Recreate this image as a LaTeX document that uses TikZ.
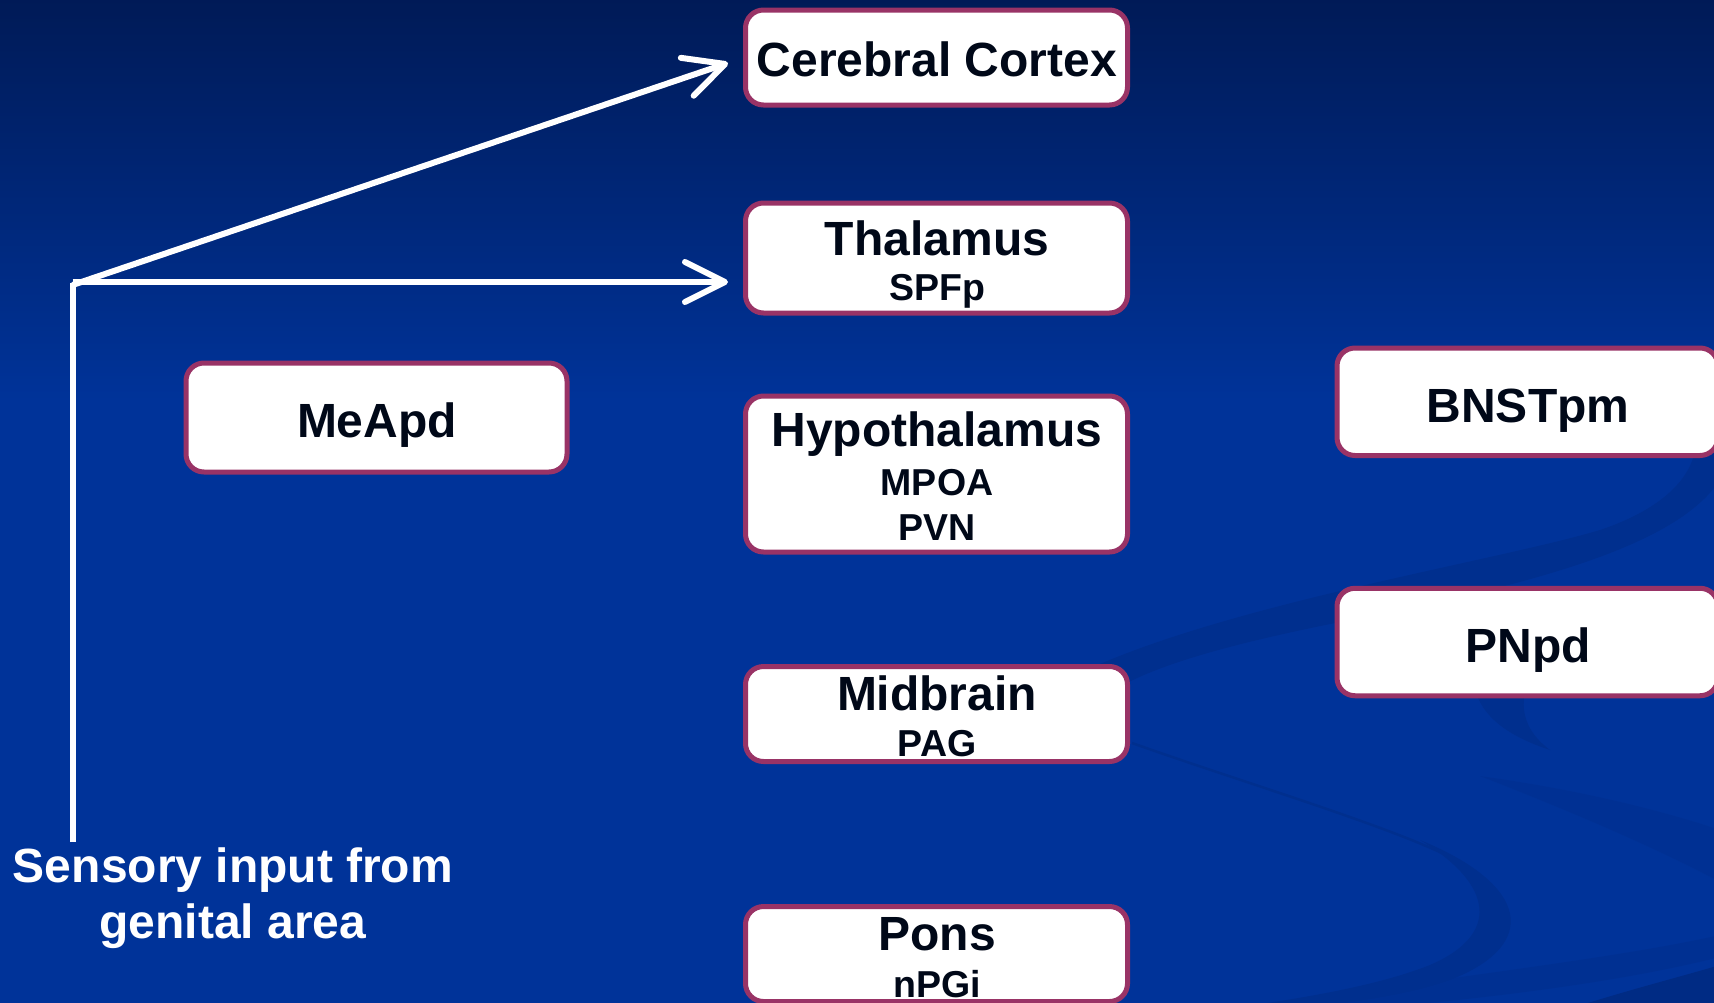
\documentclass[tikz,border=0pt]{standalone}
\usepackage{fontspec}
\setmainfont{Liberation Sans}
\usetikzlibrary{arrows.meta}
\definecolor{bgmain}{HTML}{003399}
\definecolor{bgtop}{HTML}{001A56}
\definecolor{swirl}{HTML}{002F8E}
\definecolor{swirldark}{HTML}{002B84}
\definecolor{boxborder}{HTML}{993366}
\definecolor{txt}{HTML}{000818}
\begin{document}
\begin{tikzpicture}[x=1pt,y=-1pt,
  region/.style={draw=boxborder, line width=5pt, fill=white, rounded corners=18pt, inner sep=0pt},
  bigtext/.style={text=txt, font=\fontsize{48}{56}\selectfont\bfseries, anchor=base, inner sep=0pt},
  smalltext/.style={text=txt, font=\fontsize{37.5}{44}\selectfont\bfseries, anchor=base, inner sep=0pt},
  whitetext/.style={text=white, font=\fontsize{48}{56}\selectfont\bfseries, anchor=base, inner sep=0pt},
  wline/.style={draw=white, line width=6pt},
  openarrow/.style={-{Straight Barb[length=40pt,width=40pt,line cap=round,line join=round]}}]
\useasboundingbox (0,0) rectangle (1714,1002);
% background
\fill[bgmain] (-6,-6) rectangle (1720,1008);
\shade[top color=bgtop, bottom color=bgmain] (-6,-6) rectangle (1720,400);
% faint swirl
\fill[swirl] (1100,664) .. controls (1250,600) and (1500,560) .. (1600,530) .. controls (1660,510) and (1690,480) .. (1695,450) -- (1720,450) -- (1720,480) .. controls (1680,540) and (1560,580) .. (1340,622) .. controls (1250,640) and (1170,660) .. (1125,684) -- cycle;
\draw[swirl, line width=2.5pt] (1132,743) .. controls (1250,785) and (1420,835) .. (1470,868);
\fill[swirl] (1420,840) .. controls (1530,885) and (1540,945) .. (1450,980) .. controls (1400,998) and (1330,1005) .. (1260,1012) -- (1200,1012) .. controls (1300,1000) and (1380,985) .. (1430,965) .. controls (1500,935) and (1495,885) .. (1420,840) -- cycle;
\fill[swirl] (1478,698) .. controls (1490,725) and (1520,740) .. (1550,750) .. controls (1530,735) and (1522,718) .. (1524,698) -- cycle;
\fill[swirl, opacity=.5] (1480,776) .. controls (1580,790) and (1660,810) .. (1720,830) -- (1720,882) .. controls (1660,850) and (1580,815) .. (1480,776) -- cycle;
\fill[swirl, opacity=.6] (1230,1012) .. controls (1400,982) and (1600,962) .. (1720,935) -- (1720,957) .. controls (1600,987) and (1450,1002) .. (1330,1012) -- cycle;
\fill[swirldark] (1560,1012) .. controls (1620,992) and (1680,977) .. (1720,965) -- (1720,1012) -- cycle;

% boxes
\node[region, minimum width=382pt, minimum height=95pt] (cortex) at (936.5,57.5) {};
\node[region, minimum width=382pt, minimum height=110pt] (thal) at (936.5,258) {};
\node[region, minimum width=382pt, minimum height=156pt] (hypo) at (936.5,474) {};
\node[region, minimum width=382pt, minimum height=95pt] (mid) at (936.5,714) {};
\node[region, minimum width=382pt, minimum height=95pt] (pons) at (936.5,954) {};
\node[region, minimum width=381pt, minimum height=109pt] (meapd) at (376.5,417.5) {};
\node[region, minimum width=381pt, minimum height=107.5pt] (bnst) at (1527.5,401.75) {};
\node[region, minimum width=381pt, minimum height=107.5pt] (pnpd) at (1527.5,642) {};

% texts
\node[bigtext] (cortexT) at (937,76) {Cerebral Cortex};
\node[bigtext] (thalT) at (937,255) {Thalamus};
\node[smalltext] (thalS) at (937,300) {SPFp};
\node[bigtext] (hypoT) at (937,446) {Hypothalamus};
\node[smalltext] (hypoS1) at (937,495) {MPOA};
\node[smalltext] (hypoS2) at (937,540) {PVN};
\node[bigtext] (midT) at (937,710) {Midbrain};
\node[smalltext] (midS) at (937,756.5) {PAG};
\node[bigtext] (ponsT) at (937,950) {Pons};
\node[smalltext] (ponsS) at (937,997) {nPGi};
\node[bigtext] (meapdT) at (377,437) {MeApd};
\node[bigtext] (bnstT) at (1528,422) {BNSTpm};
\node[bigtext] (pnpdT) at (1528,662) {PNpd};
\node[whitetext] (sens1) at (233,882) {Sensory input from};
\node[whitetext] (sens2) at (233,938) {genital area};

% connectors
\coordinate (base) at (72.5,842);
\coordinate (corner) at (72.5,282);
\coordinate (thaltip) at (728,282);
\coordinate (cortip) at (728,63);
\draw[wline] (base) -- ([yshift=-1pt]corner);
\draw[wline, openarrow] (corner) -- (thaltip);
\draw[wline, openarrow] ([yshift=-3pt]corner) -- (cortip);
\end{tikzpicture}
\end{document}
